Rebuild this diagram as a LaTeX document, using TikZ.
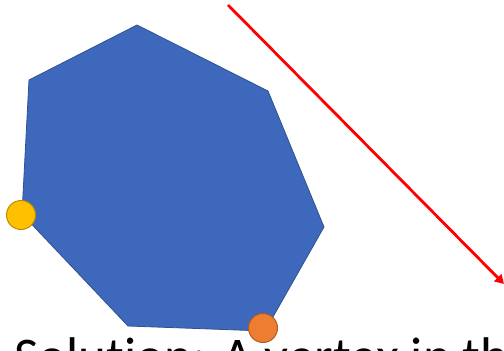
\documentclass[tikz,border=0pt]{standalone}
\usepackage{fontspec}
\setmainfont[Ligatures={NoCommon}]{Carlito}
\usetikzlibrary{arrows.meta}
\definecolor{polyfill}{HTML}{3E68BC}
\definecolor{polyline}{HTML}{2F528F}
\definecolor{yelfill}{HTML}{FFC000}
\definecolor{yelline}{HTML}{BC8C00}
\definecolor{orafill}{HTML}{ED7D31}
\definecolor{oraline}{HTML}{AE5A21}
\tikzset{
  dot/.style={circle, inner sep=0pt, minimum size=29pt, line width=1pt},
  redarrow/.style={draw=red, line width=2.8pt, -{Triangle[length=9pt,width=10pt]}},
  title/.style={anchor=base west, inner sep=0pt, font=\fontsize{53}{60}\selectfont}
}
\begin{document}
\begin{tikzpicture}[x=1pt,y=-1pt]
\useasboundingbox (0,0) rectangle (504,351);
\coordinate (p1) at (137,25);
\coordinate (p2) at (268,91);
\coordinate (p3) at (324,227);
\coordinate (p4) at (265,331);
\coordinate (p5) at (128,326);
\coordinate (p6) at (22,214);
\coordinate (p7) at (29,80);
\fill[polyfill, draw=polyline, line width=0.8pt] (p1) -- (p2) -- (p3) -- (p4) -- (p5) -- (p6) -- (p7) -- cycle;
\node[dot, fill=yelfill, draw=yelline] (yellow) at (21,215) {};
\node[dot, fill=orafill, draw=oraline] (orange) at (263,328) {};
\coordinate (a1) at (228,5);
\coordinate (a2) at (504,284);
\draw[redarrow] (a1) -- (a2);
\node[title] (txt) at (14,374) {Solution: A vertex in th};
\end{tikzpicture}
\end{document}
